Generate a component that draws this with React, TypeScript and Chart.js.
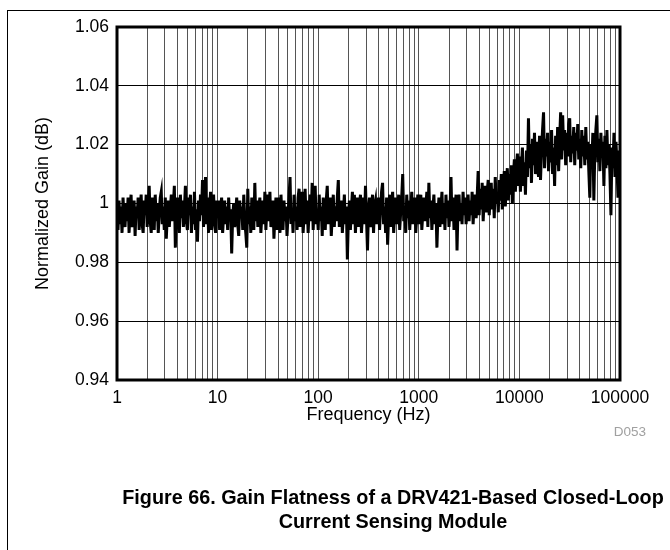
import React, { useEffect, useRef } from "react";
import { Chart, registerables } from "chart.js";

Chart.register(...registerables);

// Frequency sweep definition (x values of the measured points)
const SWEEP_START_HZ = 1;
const POINTS_PER_DECADE = 100;

// Normalized gain, one decade per array
const gain1to10Hz = [
  0.997, 0.991, 1.001, 0.993, 0.999, 0.99, 1.002, 0.995, 0.992, 1.0,
  0.994, 1.002, 0.99, 0.998, 1.003, 0.992, 0.996, 1.001, 0.989, 0.999,
  0.995, 1.002, 0.991, 0.997, 1.003, 0.993, 0.99, 1.001, 0.996, 1.003,
  0.992, 0.999, 1.006, 0.994, 0.99, 1.002, 0.997, 0.991, 1.003, 0.994,
  1.0, 0.99, 0.997, 1.002, 1.004, 0.993, 0.999, 0.991, 1.002, 0.988,
  0.996, 1.001, 0.992, 0.998, 1.003, 0.994, 0.999, 1.006, 0.985, 0.997,
  1.002, 0.993, 0.99, 1.003, 0.995, 1.001, 0.992, 0.998, 1.006, 0.994,
  0.991, 1.002, 0.996, 1.003, 0.99, 0.999, 0.993, 1.004, 0.991, 0.998,
  0.987, 1.001, 0.994, 1.003, 0.996, 1.008, 0.992, 1.0, 1.009, 0.993,
  1.002, 0.99, 0.998, 1.004, 0.991, 0.999, 1.003, 0.993, 0.99, 1.001,
];
const gain10to100Hz = [
  0.995, 1.001, 0.991, 0.998, 1.002, 0.99, 0.996, 1.001, 0.993, 0.999,
  0.991, 1.002, 0.994, 0.998, 0.983, 0.996, 1.0, 0.992, 0.997, 1.002,
  0.993, 0.989, 1.001, 0.995, 0.999, 0.991, 1.003, 0.994, 0.99, 0.985,
  1.005, 0.993, 0.999, 0.99, 1.002, 0.995, 0.991, 1.007, 0.994, 1.001,
  0.992, 0.998, 1.002, 0.99, 0.996, 1.001, 0.993, 1.004, 0.991, 0.999,
  1.003, 0.994, 1.004, 0.992, 0.997, 1.001, 0.988, 0.996, 1.002, 0.991,
  0.998, 1.002, 0.99, 1.003, 0.995, 0.991, 1.001, 0.994, 0.999, 0.989,
  0.996, 1.002, 1.009, 0.993, 0.998, 0.99, 1.003, 0.994, 0.999, 0.991,
  1.002, 1.005, 0.992, 0.999, 1.004, 0.99, 0.996, 1.005, 0.993, 1.001,
  0.99, 0.998, 1.003, 0.994, 1.007, 0.991, 1.0, 1.006, 0.993, 0.998,
];
const gain100to1kHz = [
  0.991, 1.003, 0.994, 0.999, 0.989, 1.002, 0.995, 0.991, 1.001, 1.006,
  0.993, 0.998, 1.002, 0.989, 0.996, 1.003, 0.992, 0.999, 0.994, 1.002,
  1.008, 0.992, 0.998, 1.001, 0.99, 0.996, 1.003, 0.993, 0.999, 0.981,
  0.995, 1.001, 0.991, 0.998, 1.004, 0.993, 1.003, 0.99, 0.997, 1.002,
  0.992, 0.999, 1.003, 0.99, 0.996, 1.002, 0.993, 1.006, 0.995, 0.984,
  0.998, 1.002, 0.992, 0.997, 1.003, 0.99, 0.999, 1.001, 0.993, 0.996,
  1.002, 0.991, 0.998, 1.004, 1.007, 0.993, 0.999, 0.99, 1.002, 0.986,
  0.996, 1.003, 0.992, 0.999, 1.004, 0.99, 0.997, 1.002, 0.993, 0.998,
  1.003, 0.991, 0.997, 1.002, 1.01, 0.994, 0.999, 0.99, 1.003, 0.995,
  1.001, 0.991, 0.998, 1.004, 0.993, 0.999, 1.002, 0.99, 0.996, 1.003,
];
const gain1kto10kHz = [
  0.993, 0.999, 1.003, 0.991, 0.997, 1.002, 0.994, 0.999, 1.004, 0.992,
  1.007, 0.995, 1.001, 0.991, 0.998, 1.003, 0.993, 1.0, 0.985, 0.996,
  1.002, 0.992, 0.998, 1.004, 0.993, 1.0, 0.991, 1.003, 0.995, 1.001,
  0.992, 0.998, 1.009, 0.994, 1.002, 0.991, 0.997, 1.003, 0.984, 0.999,
  1.003, 0.994, 1.0, 0.993, 1.004, 0.996, 1.002, 0.993, 0.999, 1.003,
  0.994, 1.001, 0.996, 1.004, 0.993, 1.0, 1.003, 0.995, 1.002, 1.011,
  0.996, 1.005, 0.998, 1.007, 0.994, 1.002, 1.006, 0.997, 1.004, 1.008,
  0.996, 1.003, 1.007, 0.998, 1.005, 0.995, 1.009, 1.0, 1.004, 0.997,
  1.008, 1.001, 1.01, 0.998, 1.006, 1.011, 0.999, 1.007, 1.012, 1.001,
  1.01, 1.003, 1.013, 1.0, 1.009, 1.015, 1.004, 1.012, 1.017, 1.006,
];
const gain10kto100kHz = [
  1.016, 1.004, 1.012, 1.019, 1.006, 1.014, 1.003, 1.018, 1.009, 1.029,
  1.012, 1.02, 1.007, 1.022, 1.013, 1.024, 1.01, 1.021, 1.015, 1.009,
  1.023, 1.008, 1.018, 1.025, 1.031, 1.012, 1.022, 1.016, 1.024, 1.011,
  1.021, 1.014, 1.025, 1.01, 1.019, 1.006, 1.023, 1.013, 1.026, 1.011,
  1.022, 1.031, 1.015, 1.03, 1.018, 1.025, 1.013, 1.024, 1.016, 1.027,
  1.029, 1.014, 1.023, 1.017, 1.026, 1.013, 1.024, 1.018, 1.027, 1.015,
  1.022, 1.012, 1.025, 1.016, 1.023, 1.013, 1.026, 1.015, 1.021, 1.011,
  1.002, 1.02, 1.013, 1.024, 1.001, 1.018, 1.025, 1.03, 1.014, 1.022,
  1.011, 1.024, 1.016, 1.021, 1.006, 1.023, 1.012, 1.025, 1.013, 1.02,
  1.01, 0.996, 1.019, 1.012, 1.024, 1.009, 1.021, 1.013, 1.002, 1.018,
  1.015,
];

const gainValues = [
  ...gain1to10Hz,
  ...gain10to100Hz,
  ...gain100to1kHz,
  ...gain1kto10kHz,
  ...gain10kto100kHz,
];
const frequencies = gainValues.map(
  (_, i) => SWEEP_START_HZ * Math.pow(10, i / POINTS_PER_DECADE)
);

// Axis ticks
const xDecades = [1, 10, 100, 1000, 10000, 100000];
const xGridMultipliers = [1, 2, 3, 4, 5, 6, 7, 8, 9];
const yTickValues = [0.94, 0.96, 0.98, 1.0, 1.02, 1.04, 1.06];
const yTickLabels = ["0.94", "0.96", "0.98", "1", "1.02", "1.04", "1.06"];

const xTitle = "Frequency (Hz)";
const yTitle = "Normalized Gain (dB)";
const figureId = "D053";
const captionLine1 = "Figure 66. Gain Flatness of a DRV421-Based Closed-Loop";
const captionLine2 = "Current Sensing Module";

const FONT = "'Liberation Sans', Arial, Helvetica, sans-serif";

const framePlugin = {
  id: "plotFrame",
  afterDatasetsDraw(chart: any) {
    const { ctx, chartArea } = chart;
    const { left, top, right, bottom } = chartArea;
    ctx.save();
    ctx.strokeStyle = "#000";
    ctx.lineWidth = 3;
    ctx.strokeRect(left, top, right - left, bottom - top);
    ctx.restore();
  },
};

export default function App() {
  const canvasRef = useRef<HTMLCanvasElement | null>(null);

  useEffect(() => {
    const canvas = canvasRef.current;
    if (!canvas) return;
    const xTickValues: number[] = [];
    xDecades.forEach((d) => {
      xGridMultipliers.forEach((m) => {
        const v = d * m;
        if (v <= xDecades[xDecades.length - 1]) xTickValues.push(v);
      });
    });

    const chart = new Chart(canvas, {
      type: "line",
      data: {
        datasets: [
          {
            data: frequencies.map((f, i) => ({ x: f, y: gainValues[i] })),
            borderColor: "#000",
            borderWidth: 3,
            pointRadius: 0,
            tension: 0,
            fill: false,
          },
        ],
      },
      options: {
        responsive: false,
        animation: false,
        events: [],
        layout: { padding: { left: 32, top: 27, right: 50, bottom: 124 } },
        plugins: {
          legend: { display: false },
          tooltip: { enabled: false },
          title: { display: false },
        },
        scales: {
          x: {
            type: "logarithmic",
            min: 1,
            max: 100000,
            afterFit: (scale: any) => {
              scale.height = 46;
            },
            afterBuildTicks: (scale: any) => {
              scale.ticks = xTickValues.map((v) => ({ value: v }));
            },
            border: { display: false },
            grid: { color: "#555", lineWidth: 1, drawTicks: false },
            ticks: {
              autoSkip: false,
              maxRotation: 0,
              minRotation: 0,
              padding: 8,
              color: "#000",
              font: { family: FONT, size: 17.5 },
              callback: (value: any) =>
                xDecades.includes(Number(value)) ? String(value) : "",
            },
            title: {
              display: true,
              text: xTitle,
              color: "#000",
              padding: 0,
              font: { family: FONT, size: 18 },
            },
          },
          y: {
            type: "linear",
            min: 0.94,
            max: 1.06,
            afterFit: (scale: any) => {
              scale.width = 85;
            },
            afterBuildTicks: (scale: any) => {
              scale.ticks = yTickValues.map((v) => ({ value: v }));
            },
            border: { display: false },
            grid: { color: "#000", lineWidth: 1, drawTicks: false },
            ticks: {
              padding: 8,
              color: "#000",
              font: { family: FONT, size: 17.5 },
              callback: (value: any) => {
                const idx = yTickValues.findIndex(
                  (v) => Math.abs(v - Number(value)) < 1e-9
                );
                return idx >= 0 ? yTickLabels[idx] : "";
              },
            },
            title: {
              display: true,
              text: yTitle,
              color: "#000",
              padding: 0,
              font: { family: FONT, size: 18 },
            },
          },
        },
      },
      plugins: [framePlugin],
    });

    return () => {
      chart.destroy();
    };
  }, []);

  return (
    <div
      style={{
        position: "fixed",
        left: 0,
        top: 0,
        width: 670,
        height: 550,
        background: "#fff",
        overflow: "hidden",
        fontFamily: FONT,
      }}
    >
      <div
        style={{
          position: "absolute",
          left: 7,
          top: 10,
          width: 670,
          height: 560,
          borderLeft: "1px solid #000",
          borderTop: "1px solid #000",
        }}
      />
      <canvas
        ref={canvasRef}
        width={670}
        height={550}
        style={{ position: "absolute", left: 0, top: 0, display: "block" }}
      />
      <div
        style={{
          position: "absolute",
          left: 540,
          top: 424,
          width: 106,
          textAlign: "right",
          fontSize: 13.5,
          lineHeight: "16px",
          color: "#a0a0a0",
        }}
      >
        {figureId}
      </div>
      <div
        style={{
          position: "absolute",
          left: 93,
          top: 485,
          width: 600,
          textAlign: "center",
          fontSize: 19.8,
          fontWeight: "bold",
          lineHeight: "24px",
          color: "#000",
        }}
      >
        <div>{captionLine1}</div>
        <div>{captionLine2}</div>
      </div>
    </div>
  );
}
